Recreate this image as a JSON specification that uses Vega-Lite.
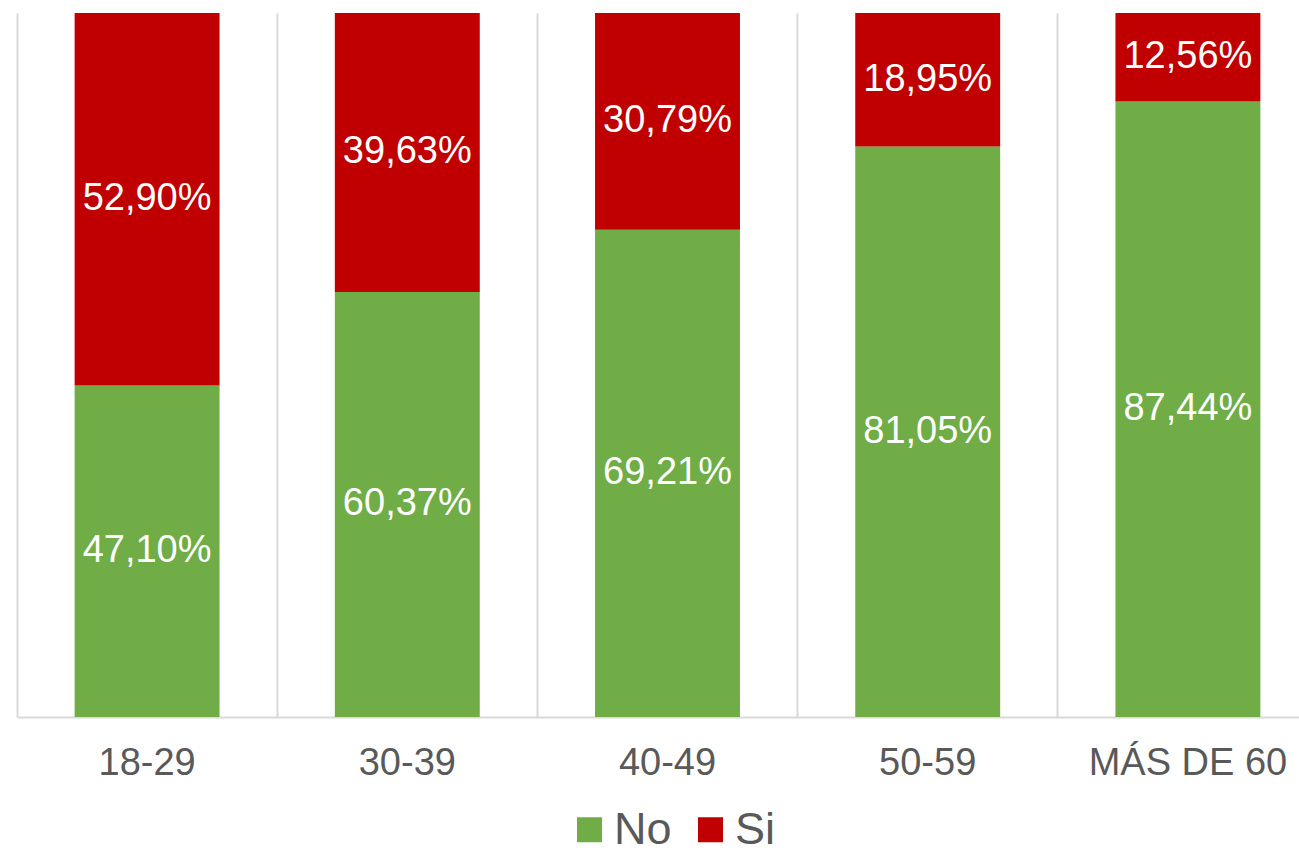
{
  "$schema": "https://vega.github.io/schema/vega-lite/v6.json",
  "width": 1282,
  "height": 704,
  "autosize": {"type": "none"},
  "padding": {"left": 17, "top": 13, "right": 0, "bottom": 136},
  "background": "white",
  "config": {
    "view": {"stroke": null},
    "font": "Liberation Sans",
    "locale": {"number": {"decimal": ",", "thousands": ".", "grouping": [3], "currency": ["", " €"]}}
  },
  "data": {
    "values": [
      {"grupo": "18-29", "respuesta": "No", "valor": 0.4710},
      {"grupo": "18-29", "respuesta": "Si", "valor": 0.5290},
      {"grupo": "30-39", "respuesta": "No", "valor": 0.6037},
      {"grupo": "30-39", "respuesta": "Si", "valor": 0.3963},
      {"grupo": "40-49", "respuesta": "No", "valor": 0.6921},
      {"grupo": "40-49", "respuesta": "Si", "valor": 0.3079},
      {"grupo": "50-59", "respuesta": "No", "valor": 0.8105},
      {"grupo": "50-59", "respuesta": "Si", "valor": 0.1895},
      {"grupo": "MÁS DE 60", "respuesta": "No", "valor": 0.8744},
      {"grupo": "MÁS DE 60", "respuesta": "Si", "valor": 0.1256}
    ]
  },
  "encoding": {
    "x": {
      "field": "grupo",
      "type": "nominal",
      "sort": null,
      "scale": {"type": "band", "paddingInner": 0, "paddingOuter": 0, "range": [0, 1301]},
      "axis": {
        "title": null,
        "labelAngle": 0,
        "labelFontSize": 38,
        "labelColor": "#595959",
        "labelPadding": 27,
        "ticks": false,
        "domainColor": "#d9d9d9",
        "domainWidth": 2,
        "grid": true,
        "gridColor": "#d9d9d9",
        "gridWidth": 2,
        "bandPosition": 0,
        "labelLimit": 400
      }
    }
  },
  "layer": [
    {
      "mark": {"type": "bar", "width": {"band": 0.557}},
      "encoding": {
        "y": {"field": "valor", "type": "quantitative", "stack": "zero", "scale": {"domain": [0, 1], "nice": false, "zero": true}, "axis": null},
        "color": {
          "field": "respuesta",
          "type": "nominal",
          "scale": {"domain": ["No", "Si"], "range": ["#70AD47", "#C00000"]},
          "legend": {
            "title": null,
            "orient": "none",
            "legendX": 550,
            "legendY": 794,
            "direction": "horizontal",
            "symbolType": "square",
            "symbolSize": 625,
            "symbolStrokeWidth": 0,
            "labelFontSize": 45,
            "labelColor": "#595959",
            "labelOffset": 2,
            "columnPadding": 16
          }
        },
        "order": {"field": "respuesta", "sort": "ascending"}
      }
    },
    {
      "mark": {"type": "text", "color": "white", "fontSize": 38, "baseline": "middle", "align": "center"},
      "encoding": {
        "y": {"field": "valor", "type": "quantitative", "stack": "zero", "bandPosition": 0.5},
        "detail": {"field": "respuesta"},
        "order": {"field": "respuesta", "sort": "ascending"},
        "text": {"field": "valor", "type": "quantitative", "format": ".2%"}
      }
    }
  ]
}
